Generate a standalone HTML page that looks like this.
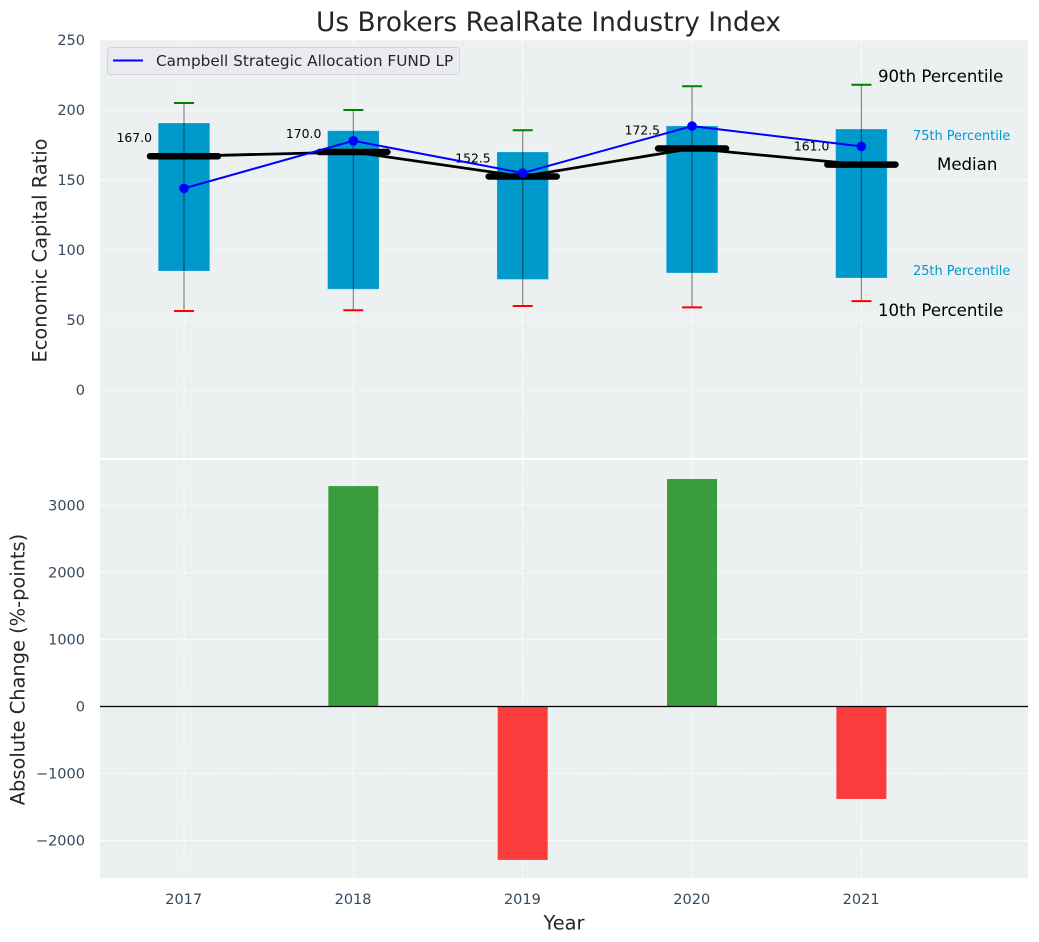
<!DOCTYPE html>
<html>
<head>
<meta charset="utf-8">
<title>Us Brokers RealRate Industry Index</title>
<style>
html,body{margin:0;padding:0;background:#fff;}
svg{display:block;font-family:"DejaVu Sans","Liberation Sans",sans-serif;}
</style>
</head>
<body>
<svg id="chart" xmlns="http://www.w3.org/2000/svg" width="1039" height="942" viewBox="0 0 1039 942"></svg>
<script>
const years = [2017, 2018, 2019, 2020, 2021];
const p90 = [205, 200, 185.5, 217, 218];
const p75 = [190.7, 185.2, 170, 188.6, 186.4];
const medians = [167, 170, 152.5, 172.5, 161];
const p25 = [85, 72, 79, 83.6, 80];
const p10 = [56.4, 57, 60, 59, 63.5];
const fund = [144, 178, 155, 188.5, 174];
const changes = [0, 3290, -2290, 3395, -1380];
const topTicks = [0, 50, 100, 150, 200, 250];
const bottomTicks = [-2000, -1000, 0, 1000, 2000, 3000];

const NS = 'http://www.w3.org/2000/svg';
const svg = document.getElementById('chart');
function x(v){ return 184 + (v - 2017) * 169.35; }
function yTop(v){ return 390 - v * 1.4; }
function yBot(v){ return 706.5 - v * 0.067; }
function mk(tag, attrs, text){
  const el = document.createElementNS(NS, tag);
  for (const k in attrs) el.setAttribute(k, attrs[k]);
  if (text !== undefined) el.textContent = text;
  svg.appendChild(el);
  return el;
}
function fmtTick(v){ return v < 0 ? '\u2212' + Math.abs(v) : String(v); }
const gridStyle = {stroke:'#ffffff','stroke-width':1.1,'stroke-dasharray':'4.5 2.5','stroke-opacity':0.85};

let e;
e = mk('rect',{x:100,y:40,width:928,height:418,fill:'#ecf0f1'});


e = mk('rect',{x:100,y:460,width:928,height:418,fill:'#ecf0f1'});



topTicks.forEach(function(t){
  e = mk('line',Object.assign({x1:100,x2:1028,y1:yTop(t),y2:yTop(t)},gridStyle));
  
  
  e = mk('text',{x:85,y:yTop(t)+5,'text-anchor':'end','font-size':14.5,fill:'#34495e'},fmtTick(t));
  
  
});
bottomTicks.forEach(function(t){
  e = mk('line',Object.assign({x1:100,x2:1028,y1:yBot(t),y2:yBot(t)},gridStyle));
  
  
  e = mk('text',{x:85,y:yBot(t)+5,'text-anchor':'end','font-size':14.5,fill:'#34495e'},fmtTick(t));
  
  
});
years.forEach(function(yr){
  e = mk('line',Object.assign({x1:x(yr),x2:x(yr),y1:40,y2:458},gridStyle));
  
  
  e = mk('line',Object.assign({x1:x(yr),x2:x(yr),y1:460,y2:878},gridStyle));
  
  
  e = mk('text',{x:x(yr)-0.3,y:904,'text-anchor':'middle','font-size':14.5,fill:'#34495e'},String(yr));
  
  
});

years.forEach(function(yr,i){
  e = mk('rect',{x:x(yr)-25.75,y:yTop(p75[i]),width:51.5,height:yTop(p25[i])-yTop(p75[i]),fill:'#0099cc',stroke:'#ffffff','stroke-opacity':0.2,'stroke-width':1});
  
  
});

const medPts = years.map(function(yr,i){ return x(yr) + ',' + yTop(medians[i]); }).join(' ');
e = mk('polyline',{points:medPts,fill:'none',stroke:'#000000','stroke-width':2.8});



years.forEach(function(yr,i){
  e = mk('line',{x1:x(yr)-34,x2:x(yr)+34,y1:yTop(medians[i]),y2:yTop(medians[i]),stroke:'#000000','stroke-width':6.5,'stroke-linecap':'round'});
  
  
  e = mk('line',{x1:x(yr),x2:x(yr),y1:yTop(p90[i]),y2:yTop(p10[i]),stroke:'#000000','stroke-opacity':0.42,'stroke-width':1.3});
  
  
  e = mk('line',{x1:x(yr)-10,x2:x(yr)+10,y1:yTop(p90[i]),y2:yTop(p90[i]),stroke:'#008000','stroke-width':2});
  
  
  e = mk('line',{x1:x(yr)-10,x2:x(yr)+10,y1:yTop(p10[i]),y2:yTop(p10[i]),stroke:'#ff0000','stroke-width':2});
  
  
  e = mk('text',{x:x(yr)-32,y:yTop(medians[i])-14,'text-anchor':'end','font-size':12.4,fill:'#000000'},medians[i].toFixed(1));
  
  
});

const fundPts = years.map(function(yr,i){ return x(yr) + ',' + yTop(fund[i]); }).join(' ');
e = mk('polyline',{points:fundPts,fill:'none',stroke:'#0000ff','stroke-width':2});


years.forEach(function(yr,i){
  e = mk('circle',{cx:x(yr),cy:yTop(fund[i]),r:4.8,fill:'#0000ff'});
  
  
});

years.forEach(function(yr,i){
  const v = changes[i];
  const top = Math.min(yBot(v), yBot(0));
  const h = Math.abs(yBot(v) - yBot(0));
  e = mk('rect',{x:x(yr)-25,y:top,width:50,height:h,fill:v >= 0 ? '#008000' : '#ff0000','fill-opacity':0.75,stroke:'none'});
  
  
});
e = mk('line',{x1:100,x2:1028,y1:yBot(0),y2:yBot(0),stroke:'#000000','stroke-width':1.3});



e = mk('text',{x:878,y:82,'font-size':16.6,fill:'#000000'},'90th Percentile');


e = mk('text',{x:913,y:140,'font-size':12.9,fill:'#0099cc'},'75th Percentile');


e = mk('text',{x:937,y:170,'font-size':16.6,fill:'#000000'},'Median');


e = mk('text',{x:913,y:275,'font-size':12.9,fill:'#0099cc'},'25th Percentile');


e = mk('text',{x:878,y:316,'font-size':16.6,fill:'#000000'},'10th Percentile');



e = mk('rect',{x:107.5,y:47.5,width:352,height:27,rx:3,fill:'#eaeaf2',stroke:'#d4d5da','stroke-width':1});


e = mk('line',{x1:113,x2:143,y1:60.5,y2:60.5,stroke:'#0000ff','stroke-width':2});


e = mk('text',{x:156,y:66,'font-size':15.3,fill:'#262626'},'Campbell Strategic Allocation FUND LP');



e = mk('text',{x:548.5,y:31,'text-anchor':'middle','font-size':26.4,fill:'#262626'},'Us Brokers RealRate Industry Index');


e = mk('text',{x:564,y:929.5,'text-anchor':'middle','font-size':19.4,fill:'#262626'},'Year');


e = mk('text',{x:0,y:0,transform:'translate(46.5,250.5) rotate(-90)','text-anchor':'middle','font-size':19.4,fill:'#262626'},'Economic Capital Ratio');


e = mk('text',{x:0,y:0,transform:'translate(24.5,669.5) rotate(-90)','text-anchor':'middle','font-size':19.4,fill:'#262626'},'Absolute Change (%-points)');


</script>
</body>
</html>
